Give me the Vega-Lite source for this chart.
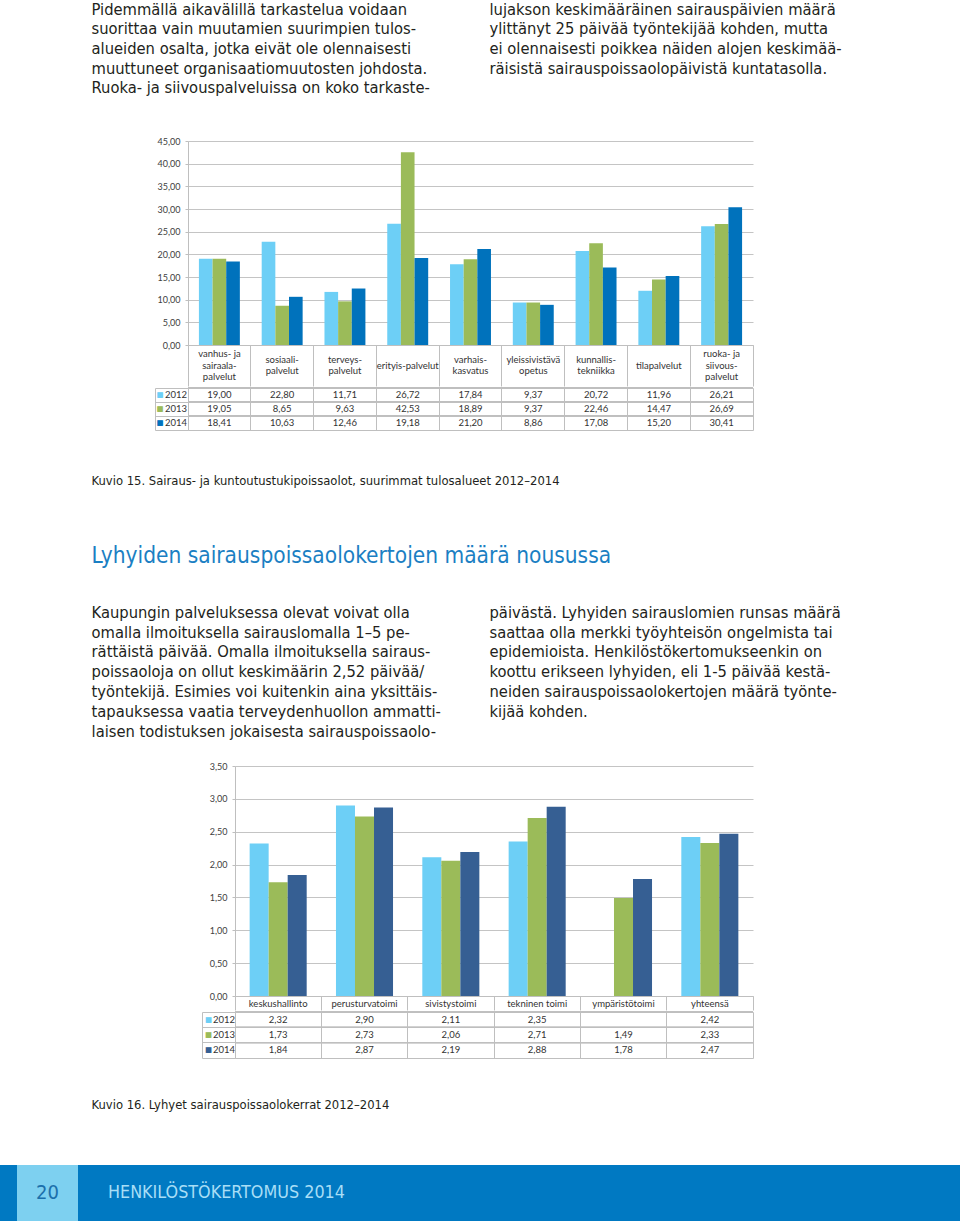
{
  "$schema": "https://vega.github.io/schema/vega-lite/v6.json",
  "padding": 0,
  "background": "white",
  "spacing": 0,
  "bounds": "full",
  "resolve": {"scale": {"x": "independent", "y": "independent", "color": "independent", "xOffset": "independent"}},
  "config": {
    "view": {"stroke": null},
    "locale": {"number": {"decimal": ",", "thousands": " ", "grouping": [3], "currency": ["", " €"]}},
    "axis": {"labelFont": "Lato, Open Sans, sans-serif"},
    "text": {"font": "Lato, Open Sans, sans-serif"}
  },
  "datasets": {
    "texts": [
      {"block": "top", "col": "L", "line": 1, "text": "Pidemmällä aikavälillä tarkastelua voidaan"},
      {"block": "top", "col": "L", "line": 2, "text": "suorittaa vain muutamien suurimpien tulos-"},
      {"block": "top", "col": "L", "line": 3, "text": "alueiden osalta, jotka eivät ole olennaisesti"},
      {"block": "top", "col": "L", "line": 4, "text": "muuttuneet organisaatiomuutosten johdosta."},
      {"block": "top", "col": "L", "line": 5, "text": "Ruoka- ja siivouspalveluissa on koko tarkaste-"},
      {"block": "top", "col": "R", "line": 1, "text": "lujakson keskimääräinen sairauspäivien määrä"},
      {"block": "top", "col": "R", "line": 2, "text": "ylittänyt 25 päivää työntekijää kohden, mutta"},
      {"block": "top", "col": "R", "line": 3, "text": "ei olennaisesti poikkea näiden alojen keskimää-"},
      {"block": "top", "col": "R", "line": 4, "text": "räisistä sairauspoissaolopäivistä kuntatasolla."},
      {"block": "cap1", "col": "L", "line": 1, "text": "Kuvio 15. Sairaus- ja kuntoutustukipoissaolot, suurimmat tulosalueet 2012–2014"},
      {"block": "head", "col": "L", "line": 1, "text": "Lyhyiden sairauspoissaolokertojen määrä nousussa"},
      {"block": "mid", "col": "L", "line": 1, "text": "Kaupungin palveluksessa olevat voivat olla"},
      {"block": "mid", "col": "L", "line": 2, "text": "omalla ilmoituksella sairauslomalla 1–5 pe-"},
      {"block": "mid", "col": "L", "line": 3, "text": "rättäistä päivää. Omalla ilmoituksella sairaus-"},
      {"block": "mid", "col": "L", "line": 4, "text": "poissaoloja on ollut keskimäärin 2,52 päivää/"},
      {"block": "mid", "col": "L", "line": 5, "text": "työntekijä. Esimies voi kuitenkin aina yksittäis-"},
      {"block": "mid", "col": "L", "line": 6, "text": "tapauksessa vaatia terveydenhuollon ammatti-"},
      {"block": "mid", "col": "L", "line": 7, "text": "laisen todistuksen jokaisesta sairauspoissaolo-"},
      {"block": "mid", "col": "R", "line": 1, "text": "päivästä. Lyhyiden sairauslomien runsas määrä"},
      {"block": "mid", "col": "R", "line": 2, "text": "saattaa olla merkki työyhteisön ongelmista tai"},
      {"block": "mid", "col": "R", "line": 3, "text": "epidemioista. Henkilöstökertomukseenkin on"},
      {"block": "mid", "col": "R", "line": 4, "text": "koottu erikseen lyhyiden, eli 1-5 päivää kestä-"},
      {"block": "mid", "col": "R", "line": 5, "text": "neiden sairauspoissaolokertojen määrä työnte-"},
      {"block": "mid", "col": "R", "line": 6, "text": "kijää kohden."},
      {"block": "cap2", "col": "L", "line": 1, "text": "Kuvio 16. Lyhyet sairauspoissaolokerrat 2012–2014"},
      {"block": "foot", "col": "L", "line": 1, "text": "HENKILÖSTÖKERTOMUS 2014"},
      {"block": "page", "col": "L", "line": 1, "text": "20"}
    ],
    "cats1": [
      {"cat": "vanhus", "label": "vanhus- ja\nsairaala-\npalvelut"},
      {"cat": "sosiaali", "label": "sosiaali-\npalvelut"},
      {"cat": "terveys", "label": "terveys-\npalvelut"},
      {"cat": "erityis", "label": "erityis-palvelut"},
      {"cat": "varhais", "label": "varhais-\nkasvatus"},
      {"cat": "yleis", "label": "yleissivistävä\nopetus"},
      {"cat": "kunnallis", "label": "kunnallis-\ntekniikka"},
      {"cat": "tila", "label": "tilapalvelut"},
      {"cat": "ruoka", "label": "ruoka- ja\nsiivous-\npalvelut"}
    ],
    "c1": [
      {"cat": "vanhus", "year": "2012", "v": 19.00}, {"cat": "vanhus", "year": "2013", "v": 19.05}, {"cat": "vanhus", "year": "2014", "v": 18.41},
      {"cat": "sosiaali", "year": "2012", "v": 22.80}, {"cat": "sosiaali", "year": "2013", "v": 8.65}, {"cat": "sosiaali", "year": "2014", "v": 10.63},
      {"cat": "terveys", "year": "2012", "v": 11.71}, {"cat": "terveys", "year": "2013", "v": 9.63}, {"cat": "terveys", "year": "2014", "v": 12.46},
      {"cat": "erityis", "year": "2012", "v": 26.72}, {"cat": "erityis", "year": "2013", "v": 42.53}, {"cat": "erityis", "year": "2014", "v": 19.18},
      {"cat": "varhais", "year": "2012", "v": 17.84}, {"cat": "varhais", "year": "2013", "v": 18.89}, {"cat": "varhais", "year": "2014", "v": 21.20},
      {"cat": "yleis", "year": "2012", "v": 9.37}, {"cat": "yleis", "year": "2013", "v": 9.37}, {"cat": "yleis", "year": "2014", "v": 8.86},
      {"cat": "kunnallis", "year": "2012", "v": 20.72}, {"cat": "kunnallis", "year": "2013", "v": 22.46}, {"cat": "kunnallis", "year": "2014", "v": 17.08},
      {"cat": "tila", "year": "2012", "v": 11.96}, {"cat": "tila", "year": "2013", "v": 14.47}, {"cat": "tila", "year": "2014", "v": 15.20},
      {"cat": "ruoka", "year": "2012", "v": 26.21}, {"cat": "ruoka", "year": "2013", "v": 26.69}, {"cat": "ruoka", "year": "2014", "v": 30.41}
    ],
    "c2": [
      {"cat": "keskushallinto", "year": "2012", "v": 2.32}, {"cat": "keskushallinto", "year": "2013", "v": 1.73}, {"cat": "keskushallinto", "year": "2014", "v": 1.84},
      {"cat": "perusturvatoimi", "year": "2012", "v": 2.90}, {"cat": "perusturvatoimi", "year": "2013", "v": 2.73}, {"cat": "perusturvatoimi", "year": "2014", "v": 2.87},
      {"cat": "sivistystoimi", "year": "2012", "v": 2.11}, {"cat": "sivistystoimi", "year": "2013", "v": 2.06}, {"cat": "sivistystoimi", "year": "2014", "v": 2.19},
      {"cat": "tekninen toimi", "year": "2012", "v": 2.35}, {"cat": "tekninen toimi", "year": "2013", "v": 2.71}, {"cat": "tekninen toimi", "year": "2014", "v": 2.88},
      {"cat": "ympäristötoimi", "year": "2012", "v": null}, {"cat": "ympäristötoimi", "year": "2013", "v": 1.49}, {"cat": "ympäristötoimi", "year": "2014", "v": 1.78},
      {"cat": "yhteensä", "year": "2012", "v": 2.42}, {"cat": "yhteensä", "year": "2013", "v": 2.33}, {"cat": "yhteensä", "year": "2014", "v": 2.47}
    ]
  },
  "vconcat": [
    {
      "width": 960, "height": 108,
      "data": {"name": "texts"},
      "transform": [{"filter": "datum.block === 'top'"}],
      "mark": {"type": "text", "align": "left", "baseline": "alphabetic", "fontSize": 16.4, "font": "DejaVu Sans Condensed, DejaVu Sans, sans-serif", "color": "#231f20"},
      "encoding": {
        "x": {"field": "col", "type": "nominal", "bandPosition": 0, "scale": {"type": "band", "domain": ["L", "R"], "paddingInner": 0.0477, "paddingOuter": 0.23}, "axis": null},
        "y": {"field": "line", "type": "ordinal", "scale": {"type": "band", "domain": [1, 2, 3, 4, 5], "paddingInner": 0, "paddingOuter": 0.269}, "axis": null},
        "text": {"field": "text"}
      }
    },
    {"width": 10, "height": 28.4, "data": {"values": []}, "mark": "text", "encoding": {}},
    {
      "hconcat": [
        {"width": 188, "height": 204, "data": {"values": []}, "mark": "text", "encoding": {}},
        {
          "width": 565, "height": 204,
          "encoding": {
            "x": {"field": "cat", "type": "nominal",
              "scale": {"domain": ["vanhus", "sosiaali", "terveys", "erityis", "varhais", "yleis", "kunnallis", "tila", "ruoka"], "paddingInner": 0, "paddingOuter": 0},
              "axis": {"title": null, "bandPosition": 1, "tickExtra": true, "tickSize": 41, "tickColor": "#bfbfbf", "domainColor": "#bfbfbf", "labels": false}}
          },
          "layer": [
            {
              "data": {"name": "c1"},
              "mark": {"type": "bar"},
              "encoding": {
                "xOffset": {"field": "year", "type": "nominal", "scale": {"paddingInner": 0, "paddingOuter": 0.8}},
                "y": {"field": "v", "type": "quantitative", "scale": {"domain": [0, 45], "nice": false},
                  "axis": {"values": [0, 5, 10, 15, 20, 25, 30, 35, 40, 45], "format": ".2f", "title": null, "grid": true, "gridColor": "#c4c4c4", "domainColor": "#bfbfbf", "tickColor": "#bfbfbf", "tickSize": 3, "labelPadding": 5, "labelFontSize": 9, "labelColor": "#404040"}},
                "color": {"field": "year", "type": "nominal", "scale": {"domain": ["2012", "2013", "2014"], "range": ["#6dcff6", "#9bbb59", "#0072bc"]}, "legend": null}
              }
            },
            {
              "data": {"name": "cats1"},
              "transform": [{"filter": "split(datum.label, '\\n').length === 3"}],
              "mark": {"type": "text", "lineBreak": "\n", "lineHeight": 11.5, "baseline": "middle", "fontSize": 9.5, "color": "#333333", "dy": 9},
              "encoding": {"y": {"datum": 0, "type": "quantitative", "scale": {"domain": [0, 45], "nice": false},
                "axis": {"values": [0, 5, 10, 15, 20, 25, 30, 35, 40, 45], "format": ".2f", "title": null, "grid": true, "gridColor": "#c4c4c4", "domainColor": "#bfbfbf", "tickColor": "#bfbfbf", "tickSize": 3, "labelPadding": 5, "labelFontSize": 9, "labelColor": "#404040"}},
                "text": {"field": "label"}}
            },
            {
              "data": {"name": "cats1"},
              "transform": [{"filter": "split(datum.label, '\\n').length === 2"}],
              "mark": {"type": "text", "lineBreak": "\n", "lineHeight": 11.5, "baseline": "middle", "fontSize": 9.5, "color": "#333333", "dy": 14.75},
              "encoding": {"y": {"datum": 0, "type": "quantitative", "scale": {"domain": [0, 45], "nice": false},
                "axis": {"values": [0, 5, 10, 15, 20, 25, 30, 35, 40, 45], "format": ".2f", "title": null, "grid": true, "gridColor": "#c4c4c4", "domainColor": "#bfbfbf", "tickColor": "#bfbfbf", "tickSize": 3, "labelPadding": 5, "labelFontSize": 9, "labelColor": "#404040"}},
                "text": {"field": "label"}}
            },
            {
              "data": {"name": "cats1"},
              "transform": [{"filter": "split(datum.label, '\\n').length === 1"}],
              "mark": {"type": "text", "lineBreak": "\n", "lineHeight": 11.5, "baseline": "middle", "fontSize": 9.5, "color": "#333333", "dy": 20.5},
              "encoding": {"y": {"datum": 0, "type": "quantitative", "scale": {"domain": [0, 45], "nice": false},
                "axis": {"values": [0, 5, 10, 15, 20, 25, 30, 35, 40, 45], "format": ".2f", "title": null, "grid": true, "gridColor": "#c4c4c4", "domainColor": "#bfbfbf", "tickColor": "#bfbfbf", "tickSize": 3, "labelPadding": 5, "labelFontSize": 9, "labelColor": "#404040"}},
                "text": {"field": "label"}}
            }
          ]
        }
      ],
      "spacing": 0, "bounds": "flush",
      "resolve": {"scale": {"x": "independent", "y": "independent", "color": "independent", "xOffset": "independent"}}
    },
    {
      "hconcat": [
        {"width": 188, "height": 42, "data": {"values": []}, "mark": "text", "encoding": {}},
        {
          "width": 565, "height": 42,
          "view": {"stroke": "#bfbfbf"},
          "data": {"name": "c1"},
          "encoding": {
            "x": {"field": "cat", "type": "nominal", "scale": {"type": "band", "domain": ["vanhus", "sosiaali", "terveys", "erityis", "varhais", "yleis", "kunnallis", "tila", "ruoka"], "paddingInner": 0, "paddingOuter": 0},
              "axis": {"grid": true, "bandPosition": 0, "labels": false, "ticks": false, "domain": false, "title": null, "gridColor": "#bfbfbf"}},
            "y": {"field": "year", "type": "nominal", "scale": {"type": "band", "domain": ["2012", "2013", "2014"], "paddingInner": 0, "paddingOuter": 0},
              "axis": {"orient": "left", "offset": 33, "grid": false, "bandPosition": 1, "tickExtra": true, "tickSize": -33, "tickColor": "#bfbfbf", "domain": true, "domainColor": "#bfbfbf", "labels": false, "title": null}}
          },
          "layer": [
            {"mark": {"type": "rule", "color": "#bfbfbf"}, "encoding": {"x": null, "y": {"field": "year", "type": "nominal", "bandPosition": 0}}},
            {"transform": [{"filter": "isValid(datum.v)"}],
             "mark": {"type": "text", "fontSize": 9.5, "color": "#333333"},
             "encoding": {"text": {"field": "v", "type": "quantitative", "format": ".2f"}}},
            {"transform": [{"filter": "datum.cat === 'vanhus'"}],
             "mark": {"type": "text", "text": "■", "font": "DejaVu Sans", "fontSize": 7.5, "dx": -28},
             "encoding": {"x": {"field": "cat", "type": "nominal", "bandPosition": 0}, "color": {"field": "year", "type": "nominal", "scale": {"domain": ["2012", "2013", "2014"], "range": ["#6dcff6", "#9bbb59", "#0072bc"]}, "legend": null}}},
            {"transform": [{"filter": "datum.cat === 'vanhus'"}],
             "mark": {"type": "text", "align": "left", "dx": -23, "fontSize": 9.5, "color": "#333333"},
             "encoding": {"x": {"field": "cat", "type": "nominal", "bandPosition": 0}, "text": {"field": "year"}}}
          ]
        }
      ],
      "spacing": 0, "bounds": "flush",
      "resolve": {"scale": {"x": "independent", "y": "independent", "color": "independent"}}
    },
    {
      "width": 960, "height": 107.3,
      "data": {"name": "texts"},
      "transform": [{"filter": "datum.block === 'cap1'"}],
      "mark": {"type": "text", "align": "left", "baseline": "alphabetic", "fontSize": 12.9, "font": "DejaVu Sans Condensed, DejaVu Sans, sans-serif", "color": "#231f20"},
      "encoding": {
        "x": {"field": "col", "type": "nominal", "bandPosition": 0, "scale": {"type": "band", "domain": ["L", "R"], "paddingInner": 0.0477, "paddingOuter": 0.23}, "axis": null},
        "text": {"field": "text"}
      }
    },
    {
      "width": 960, "height": 48.6,
      "data": {"name": "texts"},
      "transform": [{"filter": "datum.block === 'head'"}],
      "mark": {"type": "text", "align": "left", "baseline": "alphabetic", "fontSize": 22.5, "font": "DejaVu Sans Condensed, DejaVu Sans, sans-serif", "color": "#1b7fc3"},
      "encoding": {
        "x": {"field": "col", "type": "nominal", "bandPosition": 0, "scale": {"type": "band", "domain": ["L", "R"], "paddingInner": 0.0477, "paddingOuter": 0.23}, "axis": null},
        "text": {"field": "text"}
      }
    },
    {"width": 10, "height": 13.4, "data": {"values": []}, "mark": "text", "encoding": {}},
    {
      "width": 960, "height": 150.4,
      "data": {"name": "texts"},
      "transform": [{"filter": "datum.block === 'mid'"}],
      "mark": {"type": "text", "align": "left", "baseline": "alphabetic", "fontSize": 16.4, "font": "DejaVu Sans Condensed, DejaVu Sans, sans-serif", "color": "#231f20"},
      "encoding": {
        "x": {"field": "col", "type": "nominal", "bandPosition": 0, "scale": {"type": "band", "domain": ["L", "R"], "paddingInner": 0.0477, "paddingOuter": 0.23}, "axis": null},
        "y": {"field": "line", "type": "ordinal", "scale": {"type": "band", "domain": [1, 2, 3, 4, 5, 6, 7], "paddingInner": 0, "paddingOuter": 0.292}, "axis": null},
        "text": {"field": "text"}
      }
    },
    {"width": 10, "height": 8.1, "data": {"values": []}, "mark": "text", "encoding": {}},
    {
      "hconcat": [
        {"width": 235, "height": 230, "data": {"values": []}, "mark": "text", "encoding": {}},
        {
          "width": 518, "height": 230,
          "data": {"name": "c2"},
          "mark": {"type": "bar"},
          "encoding": {
            "x": {"field": "cat", "type": "nominal",
              "scale": {"domain": ["keskushallinto", "perusturvatoimi", "sivistystoimi", "tekninen toimi", "ympäristötoimi", "yhteensä"], "paddingInner": 0, "paddingOuter": 0},
              "axis": {"title": null, "bandPosition": 1, "tickExtra": true, "tickSize": 14, "tickColor": "#bfbfbf", "domainColor": "#bfbfbf", "labelAngle": 0, "labelOverlap": false,
                "labelOffset": 0, "labelPadding": -7, "labelBaseline": "middle", "labelFontSize": 9.5, "labelColor": "#333333"}},
            "xOffset": {"field": "year", "type": "nominal", "scale": {"paddingInner": 0, "paddingOuter": 0.77}},
            "y": {"field": "v", "type": "quantitative", "scale": {"domain": [0, 3.5], "nice": false},
              "axis": {"values": [0, 0.5, 1, 1.5, 2, 2.5, 3, 3.5], "format": ".2f", "title": null, "grid": true, "gridColor": "#c4c4c4", "domainColor": "#bfbfbf", "tickColor": "#bfbfbf", "tickSize": 3, "labelPadding": 5, "labelFontSize": 9, "labelColor": "#404040"}},
            "color": {"field": "year", "type": "nominal", "scale": {"domain": ["2012", "2013", "2014"], "range": ["#6dcff6", "#9bbb59", "#365f93"]}, "legend": null}
          }
        }
      ],
      "spacing": 0, "bounds": "flush",
      "resolve": {"scale": {"x": "independent", "y": "independent", "color": "independent", "xOffset": "independent"}}
    },
    {
      "hconcat": [
        {"width": 235, "height": 46, "data": {"values": []}, "mark": "text", "encoding": {}},
        {
          "width": 518, "height": 46,
          "view": {"stroke": "#bfbfbf"},
          "data": {"name": "c2"},
          "encoding": {
            "x": {"field": "cat", "type": "nominal", "scale": {"type": "band", "domain": ["keskushallinto", "perusturvatoimi", "sivistystoimi", "tekninen toimi", "ympäristötoimi", "yhteensä"], "paddingInner": 0, "paddingOuter": 0},
              "axis": {"grid": true, "bandPosition": 0, "labels": false, "ticks": false, "domain": false, "title": null, "gridColor": "#bfbfbf"}},
            "y": {"field": "year", "type": "nominal", "scale": {"type": "band", "domain": ["2012", "2013", "2014"], "paddingInner": 0, "paddingOuter": 0},
              "axis": {"orient": "left", "offset": 33, "grid": false, "bandPosition": 1, "tickExtra": true, "tickSize": -33, "tickColor": "#bfbfbf", "domain": true, "domainColor": "#bfbfbf", "labels": false, "title": null}}
          },
          "layer": [
            {"mark": {"type": "rule", "color": "#bfbfbf"}, "encoding": {"x": null, "y": {"field": "year", "type": "nominal", "bandPosition": 0}}},
            {"transform": [{"filter": "isValid(datum.v)"}],
             "mark": {"type": "text", "fontSize": 9.5, "color": "#333333"},
             "encoding": {"text": {"field": "v", "type": "quantitative", "format": ".2f"}}},
            {"transform": [{"filter": "datum.cat === 'keskushallinto'"}],
             "mark": {"type": "text", "text": "■", "font": "DejaVu Sans", "fontSize": 7.5, "dx": -26.5},
             "encoding": {"x": {"field": "cat", "type": "nominal", "bandPosition": 0}, "color": {"field": "year", "type": "nominal", "scale": {"domain": ["2012", "2013", "2014"], "range": ["#6dcff6", "#9bbb59", "#365f93"]}, "legend": null}}},
            {"transform": [{"filter": "datum.cat === 'keskushallinto'"}],
             "mark": {"type": "text", "align": "left", "dx": -22, "fontSize": 9.5, "color": "#333333"},
             "encoding": {"x": {"field": "cat", "type": "nominal", "bandPosition": 0}, "text": {"field": "year"}}}
          ]
        }
      ],
      "spacing": 0, "bounds": "flush",
      "resolve": {"scale": {"x": "independent", "y": "independent", "color": "independent"}}
    },
    {
      "width": 960, "height": 99,
      "data": {"name": "texts"},
      "transform": [{"filter": "datum.block === 'cap2'"}],
      "mark": {"type": "text", "align": "left", "baseline": "alphabetic", "fontSize": 12.9, "font": "DejaVu Sans Condensed, DejaVu Sans, sans-serif", "color": "#231f20"},
      "encoding": {
        "x": {"field": "col", "type": "nominal", "bandPosition": 0, "scale": {"type": "band", "domain": ["L", "R"], "paddingInner": 0.0477, "paddingOuter": 0.23}, "axis": null},
        "text": {"field": "text"}
      }
    },
    {"width": 10, "height": 7, "data": {"values": []}, "mark": "text", "encoding": {}},
    {
      "hconcat": [
        {"width": 17, "height": 56, "view": {"fill": "#0079c2"}, "data": {"values": []}, "mark": "text", "encoding": {}},
        {"width": 61, "height": 56, "view": {"fill": "#7dd0f0"},
         "data": {"name": "texts"}, "transform": [{"filter": "datum.block === 'page'"}],
         "mark": {"type": "text", "fontSize": 20, "color": "#1b6fab", "baseline": "middle", "font": "DejaVu Sans Condensed, DejaVu Sans, sans-serif"},
         "encoding": {"text": {"field": "text"}}},
        {"width": 30, "height": 56, "view": {"fill": "#0079c2"}, "data": {"values": []}, "mark": "text", "encoding": {}},
        {"width": 852, "height": 56, "view": {"fill": "#0079c2"},
         "data": {"name": "texts"}, "transform": [{"filter": "datum.block === 'foot'"}],
         "mark": {"type": "text", "align": "left", "baseline": "middle", "fontSize": 17.8, "color": "#a8def6", "font": "DejaVu Sans Condensed, DejaVu Sans, sans-serif"},
         "encoding": {
           "x": {"field": "col", "type": "nominal", "bandPosition": 0, "scale": {"type": "band", "paddingInner": 0, "paddingOuter": 0}, "axis": null},
           "text": {"field": "text"}}}
      ],
      "spacing": 0, "bounds": "flush",
      "resolve": {"scale": {"x": "independent", "y": "independent"}}
    }
  ]
}
